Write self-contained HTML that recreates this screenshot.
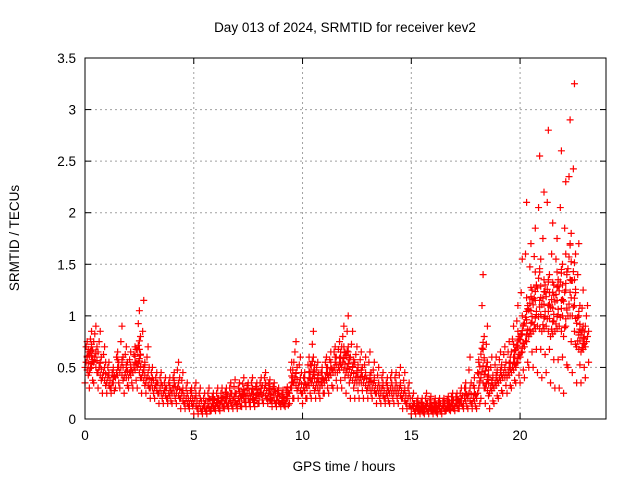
<!DOCTYPE html>
<html><head><meta charset="utf-8"><style>
body{margin:0;background:#fff}
svg{display:block;font-family:"Liberation Sans",sans-serif}
</style></head><body>
<svg id="chart" width="640" height="480">
<rect width="640" height="480" fill="#fff"/>
<text x="345" y="32" font-size="13.5" text-anchor="middle">Day 013 of 2024, SRMTID for receiver kev2</text>
<text x="344" y="471" font-size="13.5" text-anchor="middle">GPS time / hours</text>
<text transform="translate(19,238) rotate(-90)" font-size="13.5" text-anchor="middle">SRMTID / TECUs</text>
<g id="grid"></g><g id="ticks"></g><g id="marks"></g>
<rect x="85" y="58" width="521" height="361" fill="none" stroke="#000" stroke-width="1"/>
</svg>
<script>
const times=[0,0.2,0.4,0.6,0.8,1,1.2,1.4,1.6,1.8,2,2.2,2.4,2.6,2.8,3,3.2,3.4,3.6,3.8,4,4.2,4.4,4.6,4.8,5,5.2,5.4,5.6,5.8,6,6.2,6.4,6.6,6.8,7,7.2,7.4,7.6,7.8,8,8.2,8.4,8.6,8.8,9,9.2,9.4,9.6,9.8,10,10.2,10.4,10.6,10.8,11,11.2,11.4,11.6,11.8,12,12.2,12.4,12.6,12.8,13,13.2,13.4,13.6,13.8,14,14.2,14.4,14.6,14.8,15,15.2,15.4,15.6,15.8,16,16.2,16.4,16.6,16.8,17,17.2,17.4,17.6,17.8,18,18.2,18.4,18.6,18.8,19,19.2,19.4,19.6,19.8,20,20.2,20.4,20.6,20.8,21,21.2,21.4,21.6,21.8,22,22.2,22.4,22.6,22.8,23];
const lowVals=[.35,.3,.35,.3,.25,.25,.25,.3,.3,.25,.3,.3,.3,.25,.25,.2,.2,.15,.15,.15,.15,.15,.1,.1,.1,.05,.05,.05,.05,.08,.08,.08,.1,.1,.1,.1,.12,.12,.12,.12,.15,.15,.15,.12,.12,.12,.12,.15,.2,.2,.15,.2,.2,.2,.2,.25,.25,.3,.3,.3,.25,.2,.2,.2,.2,.2,.2,.15,.15,.15,.15,.15,.15,.1,.1,.05,.05,.05,.05,.05,.05,.05,.05,.08,.08,.08,.1,.1,.1,.1,.1,.2,.15,.1,.15,.2,.25,.25,.3,.35,.35,.4,.5,.5,.45,.4,.45,.35,.3,.3,.25,.5,.45,.35,.35,.4];
const lowMidVals=[.5,.45,.55,.45,.4,.35,.3,.4,.45,.4,.4,.45,.5,.4,.35,.3,.3,.25,.25,.2,.25,.25,.2,.15,.15,.15,.1,.1,.1,.12,.12,.15,.15,.15,.18,.15,.2,.2,.2,.18,.22,.25,.2,.18,.18,.15,.15,.25,.35,.3,.25,.3,.35,.3,.3,.35,.4,.45,.45,.5,.45,.4,.35,.35,.35,.3,.3,.25,.25,.2,.25,.25,.25,.2,.15,.1,.1,.08,.1,.1,.08,.1,.1,.1,.12,.12,.15,.15,.2,.15,.2,.4,.3,.25,.3,.35,.4,.4,.45,.5,.6,.7,.8,.85,.9,.85,.9,.8,.85,.9,.8,1.0,1.0,.7,.65,.7];
const highMidVals=[.65,.7,.75,.65,.55,.45,.4,.55,.6,.55,.5,.55,.8,.55,.5,.4,.35,.35,.3,.3,.35,.4,.3,.25,.25,.25,.2,.15,.2,.18,.2,.2,.22,.25,.25,.25,.28,.3,.3,.28,.3,.35,.3,.28,.25,.2,.22,.4,.55,.45,.35,.45,.6,.45,.4,.5,.5,.6,.6,.7,.7,.6,.55,.5,.45,.45,.4,.35,.35,.3,.35,.35,.35,.3,.25,.15,.15,.12,.15,.15,.12,.15,.15,.15,.18,.18,.2,.25,.35,.25,.35,.8,.55,.4,.45,.5,.55,.55,.65,.8,.9,1.1,1.25,1.3,1.55,1.3,1.4,1.3,1.35,1.5,1.4,1.8,1.6,1.1,.9,.9];
const highVals=[.75,.85,.9,.85,.7,.55,.5,.65,.9,.7,.65,.7,1.05,1.15,.7,.5,.45,.45,.4,.4,.45,.55,.45,.35,.3,.35,.3,.25,.3,.25,.3,.3,.3,.35,.38,.35,.4,.35,.4,.35,.4,.45,.38,.35,.3,.28,.3,.55,.75,.6,.45,.6,.85,.55,.5,.6,.65,.7,.75,.9,1.0,.85,.7,.65,.6,.65,.55,.5,.45,.4,.45,.45,.5,.45,.35,.25,.2,.2,.25,.22,.2,.2,.2,.22,.25,.25,.3,.35,.6,.4,.55,1.4,.9,.6,.6,.65,.7,.75,.9,1.1,1.55,2.1,1.7,1.85,2.55,2.2,2.8,1.9,1.75,2.6,2.3,2.9,3.25,1.7,1.25,1.1];
const xTicks=[0,5,10,15,20];
const yTicks=[0,0.5,1,1.5,2,2.5,3,3.5];
const yTickLabels=["0","0.5","1","1.5","2","2.5","3","3.5"];
const X0=85,X1=606,Y0=419,Y1=58,XMAX=23.95,YMAX=3.5;
const xs=v=>X0+(v/XMAX)*(X1-X0);
const ys=v=>Y0-(v/YMAX)*(Y0-Y1);
const NS="http://www.w3.org/2000/svg";
const grid=document.getElementById('grid'),ticks=document.getElementById('ticks'),marks=document.getElementById('marks');
function mk(tag,attrs,parent){const e=document.createElementNS(NS,tag);for(const k in attrs)e.setAttribute(k,attrs[k]);parent.appendChild(e);return e;}
xTicks.forEach(v=>{const x=xs(v);
 if(v>0){const g=mk('line',{x1:x,y1:Y0,x2:x,y2:Y1,stroke:'#a0a0a0','stroke-dasharray':'2,3'},grid);
 
 }
 mk('line',{x1:x,y1:Y0,x2:x,y2:Y0-6,stroke:'#000'},ticks);mk('line',{x1:x,y1:Y1,x2:x,y2:Y1+6,stroke:'#000'},ticks);
 const t=mk('text',{x:x,y:Y0+21,'font-size':13.5,'text-anchor':'middle'},ticks);t.textContent=v;
 
 });
yTicks.forEach((v,i)=>{const y=ys(v);
 if(v>0&&v<YMAX){const g=mk('line',{x1:X0,y1:y,x2:X1,y2:y,stroke:'#a0a0a0','stroke-dasharray':'2,3'},grid);
 
 }
 mk('line',{x1:X0,y1:y,x2:X0+6,y2:y,stroke:'#000'},ticks);mk('line',{x1:X1,y1:y,x2:X1-6,y2:y,stroke:'#000'},ticks);
 const t=mk('text',{x:X0-9,y:y+5,'font-size':13.5,'text-anchor':'end'},ticks);t.textContent=yTickLabels[i];
 
 });
let d='';
function cross(t,v){const x=xs(t),y=ys(v);d+=`M${x-3.5},${y}h7M${x},${y-3.5}v7`;}
times.forEach((t,i)=>{
 const lo=lowVals[i],a=lowMidVals[i],b=highMidVals[i],hi=highVals[i];
 cross(t,lo);cross(t+0.1,hi);
 const n=Math.min(7,Math.max(2,Math.round((b-a)/0.045)));
 for(let k=0;k<=n;k++)cross(t+(k%4)*0.05,a+(b-a)*k/n);
 cross(t+0.15,(lo+a)/2);cross(t+0.05,(b+hi)/2);
 if(i<times.length-1){const a2=(a+lowMidVals[i+1])/2,b2=(b+highMidVals[i+1])/2;
  const m=Math.min(4,Math.max(1,Math.round((b2-a2)/0.06)));
  for(let k=0;k<=m;k++)cross(t+0.1+(k%2)*0.05,a2+(b2-a2)*k/m);}
});
const p=mk('path',{d:d,stroke:'#ff0000','stroke-width':1.2,fill:'none'},marks);


</script>
</body></html>
